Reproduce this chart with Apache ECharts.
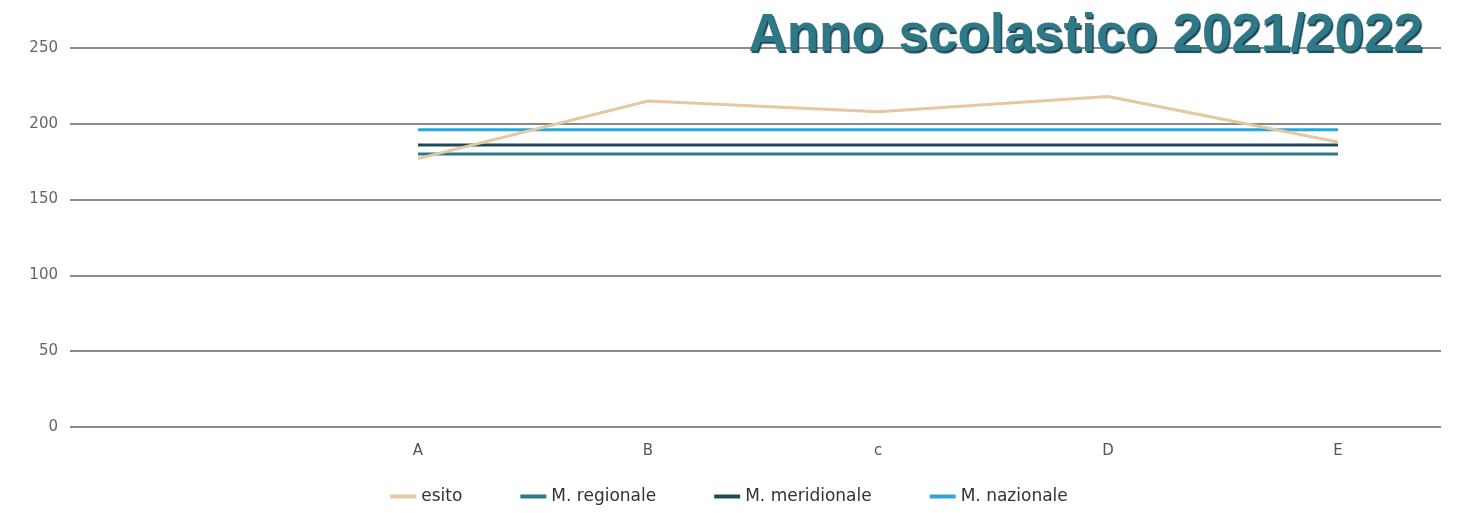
<!DOCTYPE html>
<html><head><meta charset="utf-8">
<script src="https://cdn.jsdelivr.net/npm/echarts@6/dist/echarts.min.js"></script>
<style>html,body{margin:0;padding:0;background:#fff}#c{width:1458px;height:513px}</style>
</head><body><div id="c"></div>
<script>
const categories = ['', 'A', 'B', 'c', 'D', 'E'];
const esito = [null, 177, 215, 208, 218, 188];
const regionale = [null, 180, 180, 180, 180, 180];
const meridionale = [null, 186, 186, 186, 186, 186];
const nazionale = [null, 196, 196, 196, 196, 196];
const yTicks = [0, 50, 100, 150, 200, 250];

const chart = echarts.init(document.getElementById('c'));
function s(name, data, color, z) {
  return { name, type: 'line', data, symbol: 'none', z, xAxisIndex: 1, yAxisIndex: 1,
    lineStyle: { color, width: 3 }, itemStyle: { color } };
}
const yMin = yTicks[0], yMax = yTicks[yTicks.length - 1];
chart.setOption({
  animation: false,
  title: {
    text: 'Anno scolastico 2021/2022', right: 30, top: 5,
    textStyle: { fontFamily: 'Liberation Sans', fontWeight: 'bold', fontSize: 53,
      color: '#2f7888', textShadowColor: '#1b4650', textShadowOffsetX: 1.5, textShadowOffsetY: 1.5, textShadowBlur: 1 }
  },
  legend: {
    bottom: 3, left: 'center', itemGap: 58, itemWidth: 26, itemHeight: 4, icon: 'rect',
    textStyle: { fontFamily: 'DejaVu Sans', fontSize: 17, color: '#333' },
    data: ['esito', 'M. regionale', 'M. meridionale', 'M. nazionale']
  },
  grid: [
    { left: 70, right: 17, top: 48, bottom: 86 },
    { left: 73, right: 5, top: 48, bottom: 86 }
  ],
  xAxis: [
    { type: 'category', gridIndex: 0, data: categories, show: false },
    { type: 'category', gridIndex: 1, data: categories, boundaryGap: true,
      axisLine: { show: false }, axisTick: { show: false },
      axisLabel: { margin: 17, fontFamily: 'DejaVu Sans', fontSize: 15, color: '#555' } }
  ],
  yAxis: [
    { type: 'value', gridIndex: 0, min: yMin, max: yMax, interval: 50,
      axisLine: { show: false }, axisTick: { show: false },
      axisLabel: { margin: 12, fontFamily: 'DejaVu Sans', fontSize: 15, color: '#666' },
      splitLine: { lineStyle: { color: '#8a8a8a', width: 2 } } },
    { type: 'value', gridIndex: 1, min: yMin, max: yMax, interval: 50, show: false,
      splitLine: { show: false } }
  ],
  series: [
    s('esito', esito, '#e6c8a0', 5),
    s('M. regionale', regionale, '#2b7a8a', 3),
    s('M. meridionale', meridionale, '#1d4b57', 3),
    s('M. nazionale', nazionale, '#2ba6de', 3)
  ]
});
</script></body></html>
